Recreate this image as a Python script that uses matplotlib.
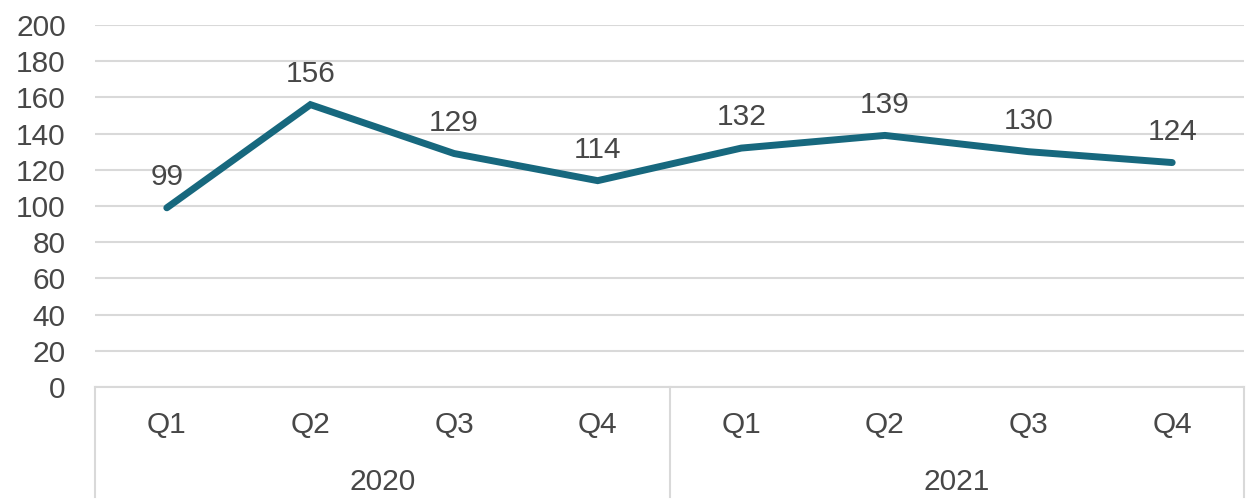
import matplotlib
matplotlib.use("Agg")
import matplotlib.pyplot as plt
from matplotlib.lines import Line2D

quarters = ["Q1", "Q2", "Q3", "Q4", "Q1", "Q2", "Q3", "Q4"]
years = ["2020", "2021"]
values = [99, 156, 129, 114, 132, 139, 130, 124]
y_ticks = list(range(0, 201, 20))

plt.rcParams['font.family'] = ['Liberation Sans', 'DejaVu Sans']
text_color = "#474747"
grid_color = "#d9d9d9"
line_color = "#17687e"
fs = 21.5

fig = plt.figure(figsize=(12.56, 5.04), dpi=100)
ax = fig.add_axes([95/1256, 1-387/504, (1244-95)/1256, (387-25)/504])

x = list(range(len(values)))
ax.plot(x, values, color=line_color, linewidth=5, solid_capstyle='round',
        solid_joinstyle='miter', zorder=3)

for xi, v in zip(x, values):
    ax.annotate(str(v), (xi, v), xytext=(0, 12), textcoords='offset points',
                ha='center', va='bottom', fontsize=fs, color=text_color)

ax.set_xlim(-0.5, len(values) - 0.5)
ax.set_ylim(0, 200)
ax.set_yticks(y_ticks)
ax.set_yticklabels([str(t) for t in y_ticks], fontsize=fs, color=text_color)
ax.tick_params(axis='y', length=0, pad=21)
ax.yaxis.grid(True, color=grid_color, linewidth=1.5)
ax.set_axisbelow(True)
ax.set_xticks([])
for s in ['top', 'right', 'left']:
    ax.spines[s].set_visible(False)
ax.spines['bottom'].set_color(grid_color)
ax.spines['bottom'].set_linewidth(1.5)

trans = ax.get_xaxis_transform()
for xi, q in zip(x, quarters):
    ax.text(xi, -0.105, q, transform=trans, ha='center', va='center',
            fontsize=fs, color=text_color)
n_per = len(quarters) // len(years)
for i, yr in enumerate(years):
    center = i * n_per + (n_per - 1) / 2
    ax.text(center, -0.262, yr, transform=trans, ha='center', va='center',
            fontsize=fs, color=text_color)
for b in [-0.5, n_per - 0.5, len(quarters) - 0.5]:
    ax.add_line(Line2D([b, b], [0, -0.304], transform=trans, color=grid_color,
                       linewidth=1.5, clip_on=False))

fig.savefig("out.png", dpi=100)
